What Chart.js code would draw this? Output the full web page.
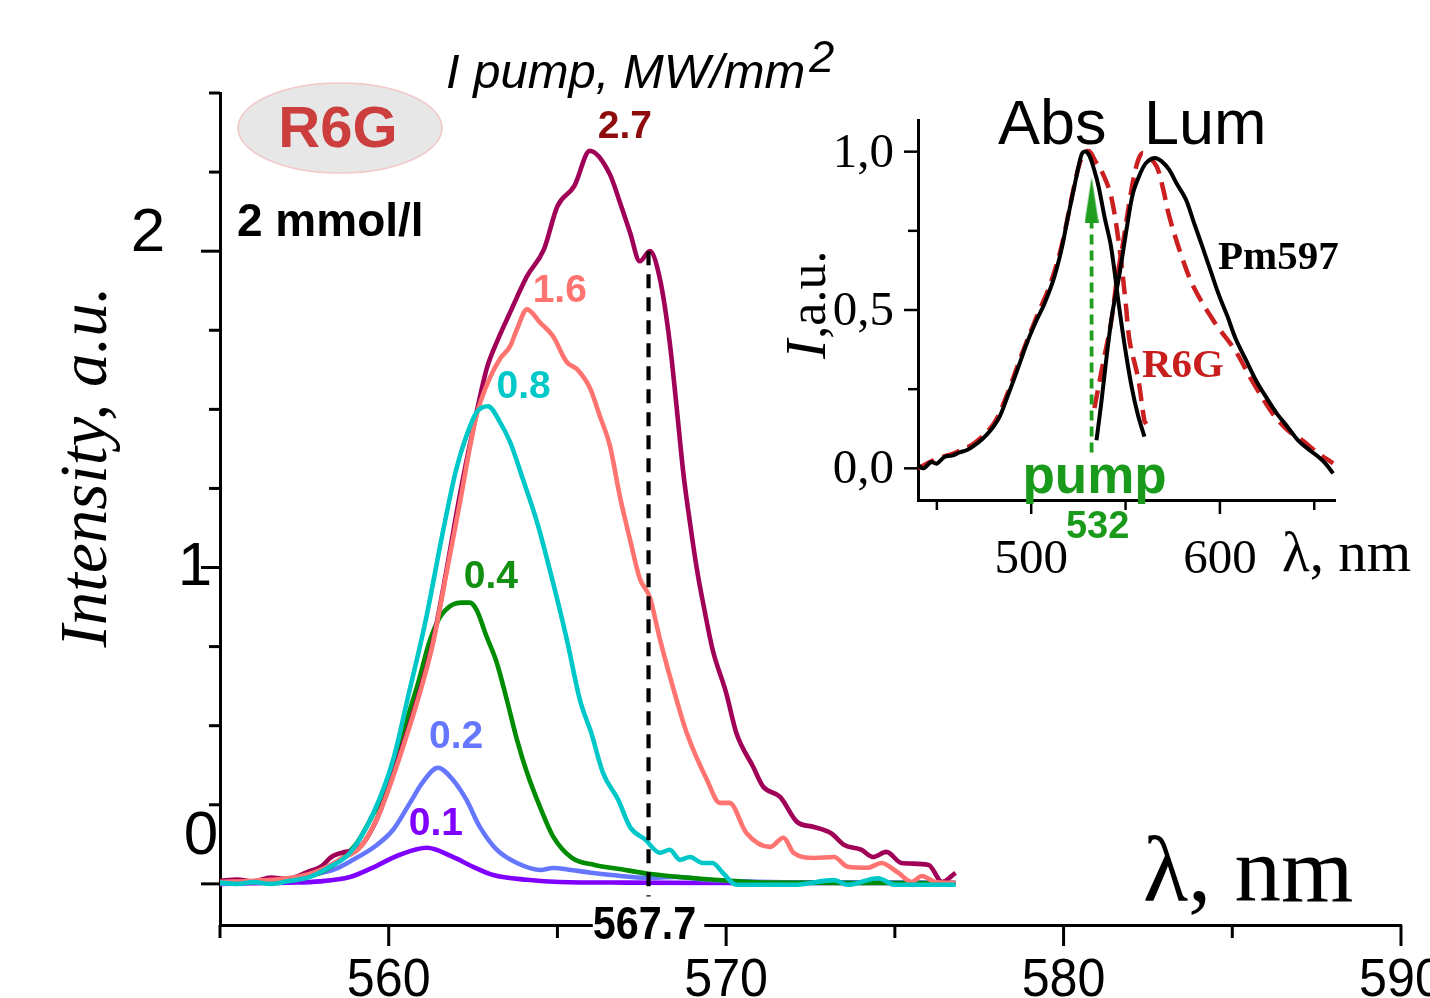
<!DOCTYPE html>
<html>
<head>
<meta charset="utf-8">
<script src="https://cdn.jsdelivr.net/npm/chart.js@4.4.0/dist/chart.umd.min.js"></script>
<style>
html,body{margin:0;padding:0;background:#fff;overflow:hidden;}
#wrap{position:relative;width:1430px;height:998px;}
#main{position:absolute;left:0;top:0;}
#inset{position:absolute;left:770px;top:80px;}
</style>
</head>
<body>
<div id="wrap">
<canvas id="main" width="1430" height="998"></canvas>
<canvas id="inset" width="660" height="520"></canvas>
</div>
<script>
// ===================== DATA (main chart) =====================
const pumpLevels = ['0.1', '0.2', '0.4', '0.8', '1.6', '2.7']; // I pump, MW/mm^2

const wl_01 = [555, 556, 557, 557.96, 558.85, 559.5, 560.33, 561.13, 561.9, 562.5, 563.1, 564.1, 565.07, 567, 570, 573, 576.8];
const I_01  = [0.000, 0.002, 0.004, 0.008, 0.022, 0.050, 0.092, 0.114, 0.085, 0.054, 0.028, 0.013, 0.006, 0.004, 0.003, 0.003, 0.003];

const wl_02 = [555, 556, 557, 557.67, 558.35, 558.94, 559.65, 560.13, 560.63, 561.0, 561.46, 561.9, 562.3, 562.7, 563.2, 563.8, 564.5, 564.87, 565.4, 566.0, 566.6, 567.7, 568.5, 569.4, 570.5, 572, 574, 576.8];
const I_02  = [0.000, 0.004, 0.010, 0.028, 0.044, 0.076, 0.123, 0.171, 0.256, 0.320, 0.367, 0.329, 0.266, 0.180, 0.108, 0.066, 0.044, 0.050, 0.044, 0.035, 0.028, 0.019, 0.022, 0.013, 0.008, 0.005, 0.005, 0.003];

const wl_04 = [555, 556, 557, 557.96, 558.56, 559.06, 559.5, 559.94, 560.33, 560.6, 560.9, 561.2, 561.5, 561.7, 561.9, 562.15, 562.4, 562.6, 562.9, 563.2, 563.5, 563.8, 564.1, 564.48, 564.87, 565.43, 566.1, 566.9, 567.7, 568.8, 570.1, 571, 574, 576.8];
const I_04  = [0.004, 0.006, 0.012, 0.035, 0.076, 0.130, 0.212, 0.307, 0.434, 0.540, 0.646, 0.763, 0.840, 0.867, 0.883, 0.889, 0.889, 0.867, 0.782, 0.700, 0.582, 0.456, 0.351, 0.244, 0.150, 0.082, 0.060, 0.046, 0.032, 0.020, 0.010, 0.004, 0.003, 0.003];

const wl_08 = [555, 555.5, 556, 556.5, 557, 557.67, 558.26, 558.85, 559.55, 560.13, 560.6, 561.1, 561.6, 562.0, 562.3, 562.6, 562.94, 563.3, 563.6, 563.98, 564.4, 564.78, 565.28, 565.67, 566.0, 566.35, 566.8, 567.15, 567.6, 568.04, 568.33, 568.63, 568.93, 569.3, 569.6, 569.9, 570.3, 571, 572, 573.2, 573.6, 574.5, 575, 576, 576.8];
const I_08  = [0.004, 0.000, 0.006, 0.000, 0.008, 0.022, 0.054, 0.098, 0.225, 0.392, 0.604, 0.835, 1.110, 1.310, 1.415, 1.490, 1.510, 1.459, 1.396, 1.278, 1.142, 0.990, 0.772, 0.580, 0.478, 0.351, 0.266, 0.180, 0.140, 0.098, 0.108, 0.076, 0.085, 0.066, 0.066, 0.035, -0.003, -0.003, -0.003, 0.012, -0.003, 0.018, -0.003, -0.003, -0.003];

const wl_16 = [555, 556, 557, 557.6, 558.0, 558.6, 559.15, 559.65, 559.95, 560.4, 560.9, 561.3, 561.7, 562.1, 562.6, 563.0, 563.3, 563.6, 563.8, 564.1, 564.48, 564.87, 565.28, 565.58, 565.96, 566.26, 566.56, 566.85, 567.15, 567.44, 567.74, 568.04, 568.53, 568.83, 569.43, 569.81, 570.1, 570.6, 571.3, 571.7, 572.0, 572.6, 573.2, 573.6, 574.2, 574.6, 575.1, 575.5, 575.8, 576.2, 576.8];
const I_16  = [0.006, 0.010, 0.018, 0.030, 0.045, 0.080, 0.115, 0.205, 0.285, 0.425, 0.595, 0.755, 0.975, 1.200, 1.480, 1.600, 1.660, 1.700, 1.753, 1.816, 1.775, 1.731, 1.649, 1.627, 1.568, 1.478, 1.383, 1.225, 1.089, 0.965, 0.905, 0.772, 0.582, 0.478, 0.329, 0.256, 0.256, 0.161, 0.117, 0.146, 0.098, 0.082, 0.085, 0.054, 0.051, 0.066, 0.035, 0.006, 0.025, 0.006, 0.003];

const wl_27 = [555, 555.5, 556, 556.5, 557, 557.6, 558.0, 558.3, 558.6, 559.15, 559.65, 559.95, 560.4, 560.9, 561.3, 561.7, 562.1, 562.5, 562.9, 563.2, 563.6, 564.1, 564.6, 565.0, 565.5, 565.96, 566.55, 566.85, 567.15, 567.44, 567.74, 568.04, 568.33, 568.53, 568.73, 568.93, 569.15, 569.35, 569.6, 570.0, 570.3, 570.8, 571.1, 571.6, 572.1, 572.6, 573.1, 573.5, 574.0, 574.35, 574.75, 575.2, 576.0, 576.4, 576.8];
const I_27  = [0.010, 0.014, 0.008, 0.020, 0.016, 0.038, 0.055, 0.085, 0.098, 0.117, 0.205, 0.290, 0.434, 0.604, 0.762, 0.984, 1.225, 1.437, 1.627, 1.712, 1.807, 1.921, 2.006, 2.142, 2.206, 2.317, 2.244, 2.155, 2.060, 1.968, 2.000, 1.911, 1.710, 1.510, 1.300, 1.140, 0.984, 0.870, 0.740, 0.604, 0.478, 0.370, 0.307, 0.275, 0.196, 0.180, 0.161, 0.123, 0.108, 0.085, 0.101, 0.066, 0.060, 0.006, 0.035];

// marked wavelength (dashed line)
const cutWl = [567.7, 567.7];
const cutI  = [2.0, -0.04];
const cutLabel = '567.7';

// label anchors for the pump-intensity annotations (data coordinates)
const labelWl = [561.4, 562.0, 563.03, 564.0, 565.07, 567.0];
const labelI  = [0.187, 0.462, 0.968, 1.57, 1.873, 2.392];

// axes
const xTicks = [555, 560, 565, 570, 575, 580, 585, 590];
const xTickLabels = ['560', '570', '580', '590'];
const xTickLabelValues = [560, 570, 580, 590];
const yTicks = [0, 0.25, 0.5, 0.75, 1, 1.25, 1.5, 1.75, 2, 2.25, 2.5];
const yTickLabels = ['0', '1', '2'];
const yTickLabelValues = [0, 1, 2];

// ===================== DATA (inset) =====================
const absWl_Pm = [440, 443, 447, 450, 454, 458, 462, 466, 470, 474, 478.5, 483, 487, 492, 498, 503, 507, 512, 516, 519, 522.5, 525, 527, 529, 531, 533.5, 535.7, 539, 542.3, 546.7, 550, 553.3, 556.5, 560];
const absI_Pm  = [0.010, 0.000, 0.020, 0.015, 0.036, 0.040, 0.050, 0.058, 0.073, 0.092, 0.120, 0.160, 0.220, 0.300, 0.400, 0.470, 0.520, 0.600, 0.690, 0.780, 0.880, 0.950, 0.995, 1.000, 0.985, 0.940, 0.890, 0.790, 0.700, 0.505, 0.370, 0.255, 0.170, 0.100];

const absWl_R6G = [440, 450, 460, 470, 480, 487, 495, 503, 510, 516, 522, 526, 529, 531, 534, 538, 542.3, 546.7, 550, 552.2, 556.6, 560, 561];
const absI_R6G  = [0.000, 0.030, 0.050, 0.080, 0.140, 0.230, 0.360, 0.480, 0.580, 0.700, 0.870, 0.970, 1.000, 1.000, 0.970, 0.930, 0.860, 0.700, 0.526, 0.400, 0.286, 0.150, 0.140];

const lumWl_Pm = [534.6, 537, 540.1, 543, 546.7, 551.1, 554, 557.7, 561, 565.4, 569, 573.1, 577, 581.9, 586, 590.7, 595, 599.5, 604, 608.3, 614, 619.3, 625, 630.3, 636, 641.3, 647, 652.3, 656, 660];
const lumI_Pm  = [0.089, 0.200, 0.360, 0.490, 0.610, 0.776, 0.870, 0.930, 0.965, 0.980, 0.970, 0.943, 0.900, 0.850, 0.780, 0.700, 0.625, 0.547, 0.480, 0.410, 0.340, 0.276, 0.220, 0.172, 0.130, 0.089, 0.060, 0.036, 0.015, -0.016];

const lumWl_R6G = [533.5, 538, 542.3, 545.5, 548.9, 552, 554.4, 556.5, 558.8, 562, 566.5, 570, 573.1, 579.7, 586.3, 597.3, 608.3, 617.1, 628.1, 636, 643.5, 652.3, 660];
const lumI_R6G  = [0.190, 0.330, 0.460, 0.600, 0.720, 0.840, 0.920, 0.970, 0.995, 0.985, 0.953, 0.880, 0.797, 0.670, 0.570, 0.460, 0.370, 0.276, 0.172, 0.120, 0.089, 0.047, 0.016];

const pumpWl = [532, 532];
const pumpI  = [0.05, 0.847];
const pumpLabel = 'pump';
const pumpValueLabel = '532';

const insetXTicks = [450, 500, 550, 600, 650];
const insetXTickLabels = ['500', '600'];
const insetXTickLabelValues = [500, 600];
const insetYTicks = [0, 0.25, 0.5, 0.75, 1.0];
const insetYTickLabels = ['0,0', '0,5', '1,0'];
const insetYTickLabelValues = [0, 0.5, 1.0];

// ===================== STYLE =====================
const SANS = '"Liberation Sans", Arial, Helvetica, sans-serif';
const SERIF = '"Liberation Serif", "Times New Roman", serif';
const seriesColors = ['#7f00ff', '#6677ff', '#008c00', '#00c8c8', '#ff7470', '#a00058'];
const labelColors  = ['#8000ff', '#6677ff', '#129012', '#00c8c8', '#ff7470', '#8e0c0c'];
const seriesOrder  = [5, 4, 3, 0, 1, 2];
const yLabelShift  = [[-19, -47], [-25, 0], [-72, -17]]; // [dx from axis, dy from tick], px

function pts(xs, ys) { return xs.map((x, i) => ({ x: x, y: ys[i] })); }

const seriesWl = [wl_01, wl_02, wl_04, wl_08, wl_16, wl_27];
const seriesI  = [I_01, I_02, I_04, I_08, I_16, I_27];

const mainDatasets = pumpLevels.map((lvl, i) => ({
  label: lvl,
  data: pts(seriesWl[i], seriesI[i]),
  borderColor: seriesColors[i],
  borderWidth: 4.6,
  pointRadius: 0,
  fill: false,
  cubicInterpolationMode: 'monotone',
  order: seriesOrder[i]
}));
mainDatasets.push({
  label: cutLabel,
  data: pts(cutWl, cutI),
  borderColor: '#000',
  borderWidth: 4.2,
  borderDash: [14, 9],
  pointRadius: 0,
  tension: 0,
  fill: false,
  order: -1
});

function line(ctx, x1, y1, x2, y2) { ctx.beginPath(); ctx.moveTo(x1, y1); ctx.lineTo(x2, y2); ctx.stroke(); }
function sText(ctx, t, x, y, sx) { ctx.save(); ctx.translate(x, y); ctx.scale(sx, 1); ctx.fillText(t, 0, 0); ctx.restore(); }

const mainDecor = {
  id: 'mainDecor',
  afterDraw(chart) {
    const ctx = chart.ctx, xs = chart.scales.x, ys = chart.scales.y, ca = chart.chartArea;
    ctx.save();
    ctx.strokeStyle = '#000'; ctx.lineWidth = 3;
    xTicks.forEach(v => { const p = xs.getPixelForValue(v); line(ctx, p, ca.bottom, p, ca.bottom + (v % 10 === 0 ? 21 : 13)); });
    yTicks.forEach(v => { const p = ys.getPixelForValue(v); line(ctx, ca.left, p, ca.left - (Number.isInteger(v) ? 19 : 11), p); });

    // x tick labels
    ctx.fillStyle = '#000'; ctx.textAlign = 'center'; ctx.textBaseline = 'alphabetic';
    ctx.font = '54px ' + SANS;
    xTickLabelValues.forEach((v, i) => sText(ctx, xTickLabels[i], xs.getPixelForValue(v), ca.bottom + 71, 0.93));
    // y tick labels
    ctx.font = '62px ' + SANS; ctx.textBaseline = 'middle';
    yTickLabelValues.forEach((v, i) => {
      ctx.fillText(yTickLabels[i], ca.left + yLabelShift[i][0], ys.getPixelForValue(v) + yLabelShift[i][1]);
    });

    // y axis title
    ctx.save();
    ctx.translate(106, 467); ctx.rotate(-Math.PI / 2);
    ctx.textAlign = 'center'; ctx.textBaseline = 'alphabetic';
    ctx.font = 'italic 67px ' + SERIF;
    ctx.fillText('Intensity, a.u.', 0, 0);
    ctx.restore();

    // x axis title
    ctx.textAlign = 'left'; ctx.textBaseline = 'alphabetic';
    ctx.font = '93px ' + SERIF;
    ctx.fillText('\u03BB, nm', 1143, 901);

    // I pump title
    ctx.font = 'italic 49px ' + SANS;
    const t1 = 'I pump, MW/mm';
    ctx.fillText(t1, 446, 88);
    const w1 = ctx.measureText(t1).width;
    ctx.font = 'italic 45px ' + SANS;
    ctx.fillText('2', 446 + w1 + 4, 72);

    // R6G ellipse
    ctx.beginPath(); ctx.ellipse(340, 128, 102, 45, 0, 0, Math.PI * 2);
    ctx.fillStyle = '#e7e7e7'; ctx.fill();
    ctx.strokeStyle = '#f3c6c6'; ctx.lineWidth = 1.5; ctx.stroke();
    ctx.fillStyle = '#cc3d3d'; ctx.textAlign = 'center';
    ctx.font = 'bold 58px ' + SANS;
    ctx.fillText('R6G', 338, 147);
    ctx.fillStyle = '#000'; ctx.textAlign = 'left';
    ctx.font = 'bold 46px ' + SANS;
    ctx.fillText('2 mmol/l', 237, 236);

    // series labels
    ctx.textAlign = 'center'; ctx.textBaseline = 'middle';
    ctx.font = 'bold 39px ' + SANS;
    pumpLevels.forEach((lvl, i) => {
      ctx.fillStyle = labelColors[i];
      ctx.fillText(lvl, xs.getPixelForValue(labelWl[i]), ys.getPixelForValue(labelI[i]));
    });

    // 567.7 label on the axis
    const cx = xs.getPixelForValue(cutWl[0]);
    ctx.font = 'bold 47px ' + SANS;
    const tw = ctx.measureText(cutLabel).width * 0.88;
    ctx.fillStyle = '#fff';
    ctx.fillRect(cx - tw / 2 - 4, ca.bottom - 18, tw + 8, 36);
    ctx.fillStyle = '#000'; ctx.textBaseline = 'alphabetic';
    sText(ctx, cutLabel, cx - 4, ca.bottom + 14, 0.88);
    ctx.restore();
  }
};

new Chart(document.getElementById('main'), {
  type: 'line',
  data: { datasets: mainDatasets },
  options: {
    responsive: false, animation: false, devicePixelRatio: 1,
    layout: { padding: { left: 220, right: 29, top: 93, bottom: 73 } },
    plugins: { legend: { display: false }, tooltip: { enabled: false } },
    scales: {
      x: { type: 'linear', min: 555, max: 590,
           ticks: { display: false }, grid: { display: false, drawTicks: false },
           border: { display: true, color: '#000', width: 3 } },
      y: { type: 'linear', min: -0.13, max: 2.5,
           ticks: { display: false }, grid: { display: false, drawTicks: false },
           border: { display: true, color: '#000', width: 3 } }
    }
  },
  plugins: [mainDecor]
});

// ===================== INSET =====================
function arrowHead() {
  const c = document.createElement('canvas');
  c.width = 14; c.height = 46;
  const g = c.getContext('2d');
  g.fillStyle = '#1f9e1f';
  g.beginPath(); g.moveTo(7, 0); g.lineTo(14, 46); g.lineTo(0, 46); g.closePath(); g.fill();
  return c;
}
const arrowImg = arrowHead();

const insetDatasets = [
  { label: 'Abs R6G', data: pts(absWl_R6G, absI_R6G), borderColor: '#cc1f1f', borderWidth: 4.5, borderDash: [18, 9], pointRadius: 0, tension: 0.35, order: 4 },
  { label: 'Lum R6G', data: pts(lumWl_R6G, lumI_R6G), borderColor: '#cc1f1f', borderWidth: 4.5, borderDash: [18, 9], pointRadius: 0, tension: 0.35, order: 3 },
  { label: 'Abs Pm597', data: pts(absWl_Pm, absI_Pm), borderColor: '#000', borderWidth: 4, pointRadius: 0, tension: 0.35, order: 2 },
  { label: 'Lum Pm597', data: pts(lumWl_Pm, lumI_Pm), borderColor: '#000', borderWidth: 4, pointRadius: 0, tension: 0.35, order: 1 },
  { label: pumpLabel, data: pts(pumpWl, pumpI), borderColor: '#1f9e1f', borderWidth: 3.8, borderDash: [10, 6], tension: 0,
    pointRadius: [0, 5], pointStyle: [false, arrowImg], order: 0 }
];

const insetDecor = {
  id: 'insetDecor',
  afterDraw(chart) {
    const ctx = chart.ctx, xs = chart.scales.x, ys = chart.scales.y, ca = chart.chartArea;
    ctx.save();
    ctx.strokeStyle = '#000'; ctx.lineWidth = 2.5;
    insetXTicks.forEach(v => { const p = xs.getPixelForValue(v); line(ctx, p, ca.bottom, p, ca.bottom + (v % 100 === 0 ? 14 : 10)); });
    insetYTicks.forEach(v => { const p = ys.getPixelForValue(v); line(ctx, ca.left, p, ca.left - ((v * 2) % 1 === 0 ? 14 : 10), p); });

    ctx.fillStyle = '#000';
    ctx.font = '49px ' + SERIF;
    ctx.textAlign = 'right'; ctx.textBaseline = 'middle';
    insetYTickLabelValues.forEach((v, i) => ctx.fillText(insetYTickLabels[i], ca.left - 24, ys.getPixelForValue(v) + 2));
    ctx.textAlign = 'center'; ctx.textBaseline = 'alphabetic';
    insetXTickLabelValues.forEach((v, i) => ctx.fillText(insetXTickLabels[i], xs.getPixelForValue(v), 493));

    ctx.textAlign = 'left';
    ctx.font = '57px ' + SERIF;
    ctx.fillText('\u03BB, nm', 512, 491);

    // y title
    ctx.save();
    ctx.translate(55, 279); ctx.rotate(-Math.PI / 2);
    ctx.textAlign = 'left';
    ctx.font = 'italic 58px ' + SERIF;
    ctx.fillText('I', 0, 0);
    const wI = ctx.measureText('I').width;
    ctx.font = '52px ' + SERIF;
    ctx.fillText(',a.u.', wI + 1, 0);
    ctx.restore();

    ctx.font = '63px ' + SANS;
    ctx.fillText('Abs', 228, 64);
    ctx.fillText('Lum', 374, 64);

    ctx.font = 'bold 41px ' + SERIF;
    ctx.fillText('Pm597', 448, 189);
    ctx.fillStyle = '#c81e1e';
    ctx.fillText('R6G', 372, 297);

    ctx.fillStyle = '#1a9a1a'; ctx.textAlign = 'center';
    ctx.font = 'bold 53px ' + SANS;
    ctx.fillText(pumpLabel, xs.getPixelForValue(pumpWl[0]) + 3, 413);
    ctx.font = 'bold 38px ' + SANS;
    ctx.fillText(pumpValueLabel, xs.getPixelForValue(pumpWl[0]) + 6, 458);
    ctx.restore();
  }
};

new Chart(document.getElementById('inset'), {
  type: 'line',
  data: { datasets: insetDatasets },
  options: {
    responsive: false, animation: false, devicePixelRatio: 1,
    layout: { padding: { left: 148, right: 95, top: 40, bottom: 100 } },
    plugins: { legend: { display: false }, tooltip: { enabled: false } },
    scales: {
      x: { type: 'linear', min: 440, max: 661,
           ticks: { display: false }, grid: { display: false, drawTicks: false },
           border: { display: true, color: '#000', width: 3 } },
      y: { type: 'linear', min: -0.1, max: 1.1,
           ticks: { display: false }, grid: { display: false, drawTicks: false },
           border: { display: true, color: '#000', width: 3 } }
    }
  },
  plugins: [insetDecor]
});
</script>
</body>
</html>
